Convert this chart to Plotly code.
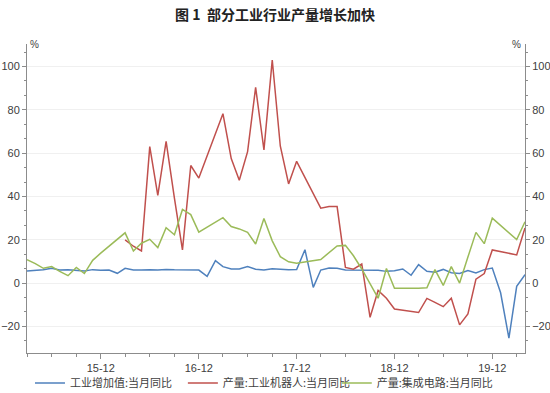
import plotly.graph_objects as go
import pandas as pd

# Monthly data, Mar 2015 .. Apr 2020 (None = month not published)
months = pd.date_range("2015-03-01", "2020-04-01", freq="MS")

iva = [5.6, 5.9, 6.1, 6.8, 6.0, 6.1, 5.7, 5.6, 6.2, 5.9,
       6.0, 4.5, 6.8, 6.0, 6.0, 6.2, 6.0, 6.3, 6.1, 6.1, 6.2, 6.0,
       3.1, 10.3, 7.6, 6.5, 6.5, 7.6, 6.4, 6.0, 6.6, 6.2, 6.1, 6.2,
       15.4, -2.0, 6.0, 7.0, 6.8, 6.0, 6.0, 6.1, 5.8, 5.9, 5.4, 5.7,
       6.5, 3.6, 8.5, 5.4, 5.0, 6.3, 4.8, 4.4, 5.8, 4.7, 6.2, 6.9,
       -4.5, -25.4, -1.5, 3.9]

robot = [None] * 10 + [
    None, None, 19.9, 17.0, 14.8, 63.0, 40.5, 65.4, 39.2, 15.3, 54.3, 48.5,
    None, None, 78.2, 57.5, 47.5, 60.7, 90.4, 61.5, 103.0, 63.3, 45.8, 56.2,
    None, None, 34.6, 35.3, 35.3, 7.2, 6.4, 8.8, -15.8, -3.4, -7.0, -12.0,
    None, None, -13.6, -7.1, -8.9, -10.9, -7.0, -19.3, -14.3, 1.8, 4.4, 15.3,
    None, None, 13.0, 25.4]

ic = [10.8, 9.0, 6.8, 7.6, 5.4, 3.4, 7.2, 4.4, 10.5, 13.8,
      None, None, 23.2, 14.8, 18.4, 20.2, 16.4, 25.6, 22.3, 34.0, 31.6, 23.5,
      None, None, 30.2, 26.1, 25.0, 23.4, 18.0, 29.8, 19.5, 12.2, 9.8, 9.2,
      None, None, 10.9, 14.2, 17.1, 17.4, 12.6, 6.5, -0.5, -7.0, 6.7, -2.4,
      None, None, -2.4, -2.2, 6.2, -1.1, 7.6, 0.0, 12.0, 23.4, 18.2, 30.0,
      None, None, 20.1, 28.3]

names = ["工业增加值:当月同比", "产量:工业机器人:当月同比", "产量:集成电路:当月同比"]
colors = ["#4f81bd", "#c0504d", "#9bbb59"]

FONT = "Liberation Sans, Noto Sans CJK SC, sans-serif"
AXC = "#8c8c8c"

fig = go.Figure()
fig.add_trace(go.Scatter(x=months, y=iva, name=names[0], mode="lines",
                         line=dict(color=colors[0], width=1.5), connectgaps=True,
                         legend="legend"))
fig.add_trace(go.Scatter(x=months, y=robot, name=names[1], mode="lines",
                         line=dict(color=colors[1], width=1.5), connectgaps=True,
                         legend="legend2"))
fig.add_trace(go.Scatter(x=months, y=ic, name=names[2], mode="lines",
                         line=dict(color=colors[2], width=1.5), connectgaps=True,
                         yaxis="y2", legend="legend3"))

yrange = [-32.3, 110.4]


def yax(**kw):
    d = dict(range=yrange, dtick=20, tick0=0, showline=True, linecolor=AXC,
             linewidth=1, ticks="outside", ticklen=4, tickcolor=AXC,
             tickfont=dict(size=11, color="#404040", family=FONT),
             zeroline=False, automargin=False,
             minor=dict(dtick=20 / 3, tick0=0, ticks="outside", ticklen=2,
                        tickcolor=AXC, showgrid=False))
    d.update(kw)
    return d


def leg(x):
    return dict(orientation="h", x=x, xanchor="left", y=-0.097, yanchor="middle",
                font=dict(size=11, family="Noto Sans CJK SC", color="#404040"),
                bgcolor="rgba(0,0,0,0)", itemwidth=30)


fig.update_layout(
    width=550, height=393,
    margin=dict(l=27, r=25, t=44, b=40, autoexpand=False),
    paper_bgcolor="white", plot_bgcolor="white",
    font=dict(family=FONT, size=11, color="#404040"),
    title=dict(text="<b>图 1  部分工业行业产量增长加快</b>", x=0.5, xanchor="center",
               y=1 - 15 / 393, yanchor="middle",
               font=dict(family="Noto Sans CJK SC", size=14, color="#222222")),
    xaxis=dict(range=["2015-03-01", "2020-04-01"], tick0="2015-12-01", dtick="M12",
               tickformat="%y-%m", ticks="outside", ticklen=5, tickcolor=AXC,
               showline=True, linecolor=AXC, linewidth=1, showgrid=False,
               zeroline=False, automargin=False,
               tickfont=dict(size=11, color="#404040", family=FONT),
               minor=dict(dtick="M3", tick0="2015-12-01", ticks="outside",
                          ticklen=3, tickcolor=AXC, showgrid=False)),
    yaxis=yax(showgrid=True, gridcolor="#f0f0f0", gridwidth=1, side="left"),
    yaxis2=yax(showgrid=False, overlaying="y", side="right"),
    legend=leg(0.006),
    legend2=leg(0.313),
    legend3=leg(0.622),
    showlegend=True,
    annotations=[
        dict(text="%", xref="paper", yref="paper", x=0, y=1, xanchor="left",
             yanchor="middle", xshift=1, showarrow=False,
             font=dict(size=10, color="#404040", family=FONT)),
        dict(text="%", xref="paper", yref="paper", x=1, y=1, xanchor="right",
             yanchor="middle", xshift=-2, showarrow=False,
             font=dict(size=10, color="#404040", family=FONT)),
    ],
)

fig.write_html("out.html",
               config={"displayModeBar": False},
               post_script="document.body.style.margin='0';"
                           "document.body.style.padding='0';")
